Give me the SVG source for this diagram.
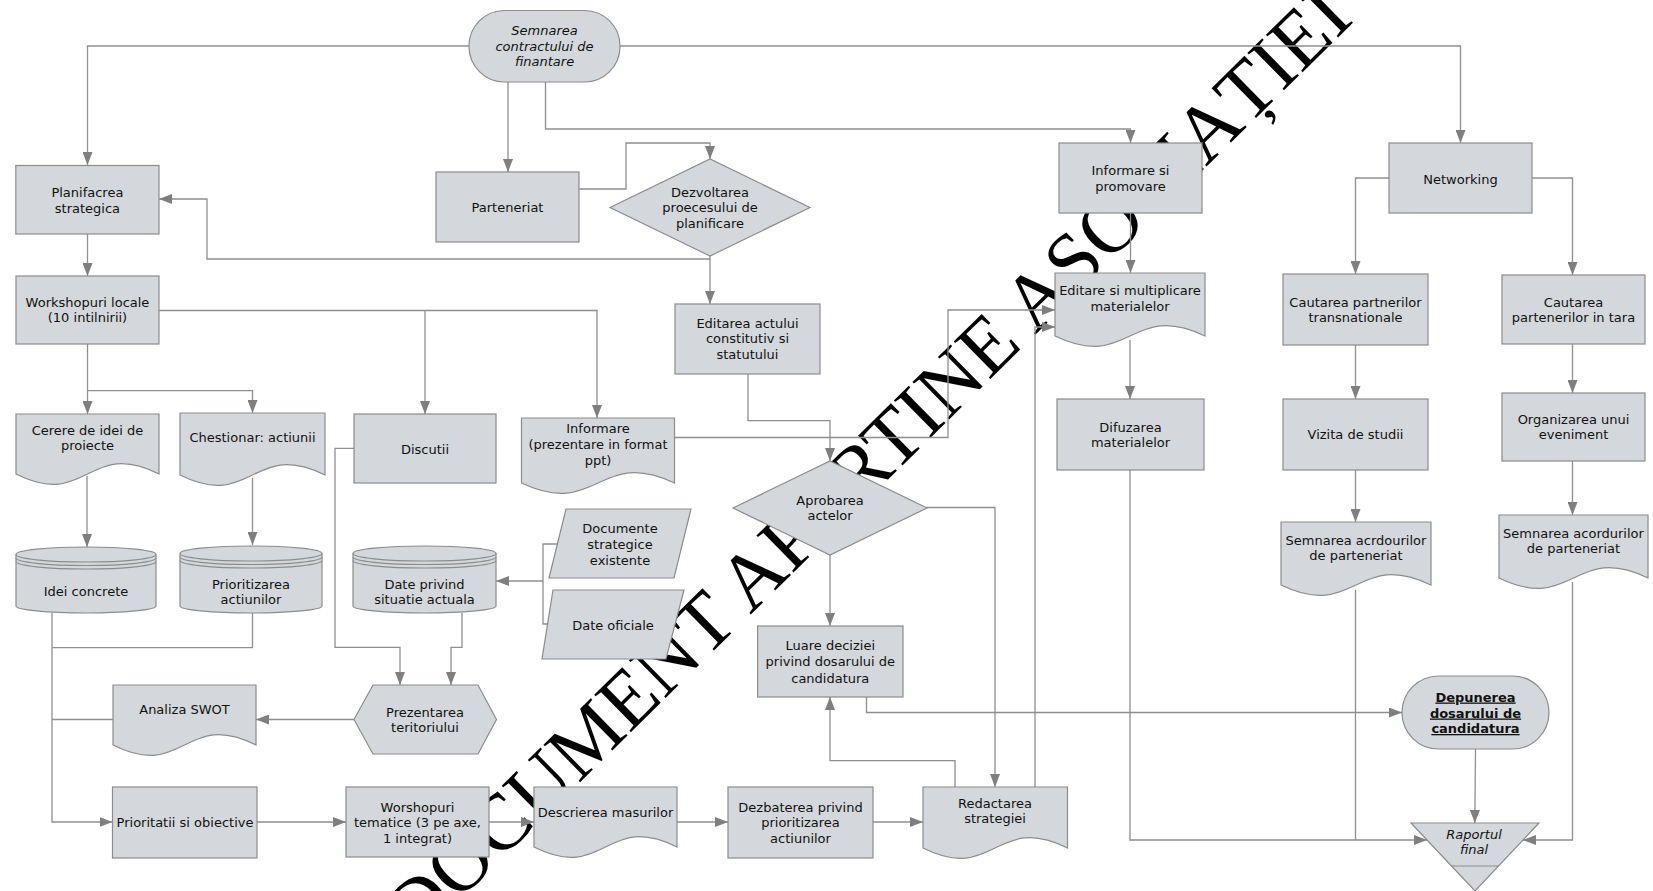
<svg xmlns="http://www.w3.org/2000/svg" width="1653" height="891" viewBox="0 0 1653 891">
<style>
.n{fill:#d4d8dc;stroke:#8c8c8c;stroke-width:1.2}
.l{fill:none;stroke:#8c8c8c;stroke-width:1.2}
.t{font-family:"DejaVu Sans",Verdana,sans-serif;font-size:13px;fill:#111;text-anchor:middle}
.i{font-style:italic}
.b{font-weight:bold;text-decoration:underline}
.c{fill:none;stroke:#8f8f8f;stroke-width:1.3}
.a{marker-end:url(#arr)}
.wm{font-family:"Liberation Serif","Times New Roman",serif;font-size:80px;fill:#000}
</style>
<defs>
<marker id="arr" markerUnits="userSpaceOnUse" markerWidth="14" markerHeight="10" refX="13" refY="5" orient="auto">
<path d="M0,0 L13,5 L0,10 Z" fill="#7f7f7f"/>
</marker>
</defs>
<rect width="1653" height="891" fill="#fff"/>
<g id="watermark">
<text class="wm" x="416.8" y="942.6" transform="rotate(-44.5 416.8 942.6)">DOCUMENT APARTINE ASOCIAȚIEI</text>
</g>
<g id="connectors">
<path class="c a" d="M469,46 H87.5 V165"/>
<path class="c a" d="M620,46 H1460.5 V143"/>
<path class="c a" d="M508,82 V172"/>
<path class="c a" d="M545.5,82 V129 H1130.5 V143"/>
<path class="c a" d="M579,189 H626 V143 H710 V159"/>
<path class="c a" d="M710,256 V304"/>
<path class="c a" d="M710,259 H207 V199 H159"/>
<path class="c a" d="M87.5,234 V276"/>
<path class="c a" d="M159,310.5 H597 V418"/>
<path class="c a" d="M425,310.5 V414"/>
<path class="c a" d="M87.5,344 V414"/>
<path class="c a" d="M87.5,390.7 H252.5 V413"/>
<path class="c a" d="M87,476 V547"/>
<path class="c a" d="M252.5,478 V545"/>
<path class="c a" d="M52,613 V822 H112.5"/>
<path class="c" d="M252.5,613 V647.7 H52"/>
<path class="c" d="M113,719.5 H52"/>
<path class="c a" d="M354,719.5 H256"/>
<path class="c a" d="M354,448.3 H335 V647.3 H400 V685"/>
<path class="c a" d="M462,613 V647.3 H451 V685"/>
<path class="c" d="M557.4,544 H543 V624 H548"/>
<path class="c a" d="M543,581 H496"/>
<path class="c a" d="M257,822 H346"/>
<path class="c a" d="M489,822 H534"/>
<path class="c a" d="M677,822 H728"/>
<path class="c a" d="M873,822 H923"/>
<path class="c a" d="M955,787 V760.7 H830 V697"/>
<path class="c a" d="M927,507.5 H995 V787"/>
<path class="c a" d="M830,555 V626"/>
<path class="c a" d="M748,374 V420.7 H830 V461"/>
<path class="c a" d="M674.5,437.5 H948 V310 H1055"/>
<path class="c a" d="M1035,787 V327 H1055"/>
<path class="c a" d="M1130.5,213 V273"/>
<path class="c a" d="M1130,340 V399"/>
<path class="c a" d="M1130,470 V840 H1427"/>
<path class="c a" d="M1389,178 H1355.5 V274"/>
<path class="c a" d="M1532,178 H1572.5 V275"/>
<path class="c a" d="M1355.5,345 V399"/>
<path class="c a" d="M1355.5,470 V522"/>
<path class="c" d="M1355.5,590 V840"/>
<path class="c a" d="M1572.5,344 V393"/>
<path class="c a" d="M1572.5,461 V515"/>
<path class="c a" d="M1572.5,582 V840 H1523"/>
<path class="c a" d="M866.5,697 V712.5 H1402"/>
<path class="c a" d="M1475.5,749 L1474.8,823"/>
</g>
<g id="n-semnarea-contract">
<rect class="n" x="469" y="10.5" width="151" height="71.5" rx="35.5" ry="35.5"/>
<text class="t i"><tspan x="544.5" y="35">Semnarea</tspan><tspan x="544.5" y="50.5">contractului de</tspan><tspan x="544.5" y="66">finantare</tspan></text>
</g>
<g id="n-planificarea">
<rect class="n" x="15.8" y="165.5" width="143.2" height="68.5"/>
<text class="t"><tspan x="87.4" y="197">Planifacrea</tspan><tspan x="87.4" y="212.5">strategica</tspan></text>
</g>
<g id="n-parteneriat">
<rect class="n" x="436" y="172" width="143" height="70"/>
<text class="t"><tspan x="507.5" y="212">Parteneriat</tspan></text>
</g>
<g id="n-dezvoltarea">
<path class="n" d="M610,207.5 L710,159 L810,207.5 L710,256 Z"/>
<text class="t"><tspan x="710" y="196.5">Dezvoltarea</tspan><tspan x="710" y="212">proecesului de</tspan><tspan x="710" y="227.5">planificare</tspan></text>
</g>
<g id="n-informare-promovare">
<rect class="n" x="1059" y="143" width="143" height="70"/>
<text class="t"><tspan x="1130.5" y="175">Informare si</tspan><tspan x="1130.5" y="190.5">promovare</tspan></text>
</g>
<g id="n-networking">
<rect class="n" x="1389" y="143" width="143" height="70"/>
<text class="t"><tspan x="1460.5" y="183.5">Networking</tspan></text>
</g>
<g id="n-workshopuri-locale">
<rect class="n" x="16" y="276" width="143" height="68"/>
<text class="t"><tspan x="87.5" y="306.5">Workshopuri locale</tspan><tspan x="87.5" y="322">(10 intilnirii)</tspan></text>
</g>
<g id="n-editarea-actului">
<rect class="n" x="675" y="304" width="145" height="70"/>
<text class="t"><tspan x="747.5" y="327.5">Editarea actului</tspan><tspan x="747.5" y="343">constitutiv si</tspan><tspan x="747.5" y="358.5">statutului</tspan></text>
</g>
<g id="n-editare-multiplicare">
<path class="n" d="M1055,273 H1205 V336 C1130,300 1130,372 1055,336 Z"/>
<text class="t"><tspan x="1130" y="295">Editare si multiplicare</tspan><tspan x="1130" y="311">materialelor</tspan></text>
</g>
<g id="n-cautarea-trans">
<rect class="n" x="1283" y="274" width="145" height="71"/>
<text class="t"><tspan x="1355.5" y="306.5">Cautarea partnerilor</tspan><tspan x="1355.5" y="322">transnationale</tspan></text>
</g>
<g id="n-cautarea-tara">
<rect class="n" x="1502" y="275" width="143" height="69"/>
<text class="t"><tspan x="1573.5" y="306.5">Cautarea</tspan><tspan x="1573.5" y="322">partenerilor in tara</tspan></text>
</g>
<g id="n-difuzarea">
<rect class="n" x="1057" y="399" width="147" height="71"/>
<text class="t"><tspan x="1130.5" y="431.5">Difuzarea</tspan><tspan x="1130.5" y="447">materialelor</tspan></text>
</g>
<g id="n-vizita">
<rect class="n" x="1283" y="399" width="145" height="71"/>
<text class="t"><tspan x="1355.5" y="438.5">Vizita de studii</tspan></text>
</g>
<g id="n-organizarea">
<rect class="n" x="1502" y="393" width="143" height="68"/>
<text class="t"><tspan x="1573.5" y="423.5">Organizarea unui</tspan><tspan x="1573.5" y="439">eveniment</tspan></text>
</g>
<g id="n-semnarea-acrdourilor">
<path class="n" d="M1281,522 H1431 V585 C1356,549 1356,621 1281,585 Z"/>
<text class="t"><tspan x="1356" y="544.5">Semnarea acrdourilor</tspan><tspan x="1356" y="560">de parteneriat</tspan></text>
</g>
<g id="n-semnarea-acordurilor">
<path class="n" d="M1499,515 H1648 V578 C1573.5,542 1573.5,614 1499,578 Z"/>
<text class="t"><tspan x="1573.5" y="537.5">Semnarea acordurilor</tspan><tspan x="1573.5" y="553">de parteneriat</tspan></text>
</g>
<g id="n-cerere">
<path class="n" d="M16,414 H159 V474 C87.5,438 87.5,510 16,474 Z"/>
<text class="t"><tspan x="87.5" y="434.5">Cerere de idei de</tspan><tspan x="87.5" y="450">proiecte</tspan></text>
</g>
<g id="n-chestionar">
<path class="n" d="M180,413 H325 V475 C252.5,439 252.5,511 180,475 Z"/>
<text class="t"><tspan x="252.5" y="442">Chestionar: actiunii</tspan></text>
</g>
<g id="n-discutii">
<rect class="n" x="354" y="414" width="142" height="69"/>
<text class="t"><tspan x="425" y="453.5">Discutii</tspan></text>
</g>
<g id="n-informare-ppt">
<path class="n" d="M521.5,418 H674.5 V483 C598,447 598,519 521.5,483 Z"/>
<text class="t"><tspan x="598" y="432.5">Informare</tspan><tspan x="598" y="448.5">(prezentare in format</tspan><tspan x="598" y="464.5">ppt)</tspan></text>
</g>
<g id="n-idei-concrete">
<path class="n" d="M16,554.5 A70,7.5 0 0 1 156,554.5 V606 A70,7 0 0 1 16,606 Z"/>
<path class="l" d="M16,554.5 A70,7.5 0 0 0 156,554.5 M16,558 A70,7.5 0 0 0 156,558 M16,561.5 A70,7.5 0 0 0 156,561.5"/>
<text class="t"><tspan x="86" y="595.5">Idei concrete</tspan></text>
</g>
<g id="n-prioritizarea">
<path class="n" d="M180,553.5 A71,7.5 0 0 1 322,553.5 V606 A71,7 0 0 1 180,606 Z"/>
<path class="l" d="M180,553.5 A71,7.5 0 0 0 322,553.5 M180,557 A71,7.5 0 0 0 322,557 M180,560.5 A71,7.5 0 0 0 322,560.5"/>
<text class="t"><tspan x="251" y="588.5">Prioritizarea</tspan><tspan x="251" y="604">actiunilor</tspan></text>
</g>
<g id="n-date-privind">
<path class="n" d="M353,553.5 A71.5,7.5 0 0 1 496,553.5 V606 A71.5,7 0 0 1 353,606 Z"/>
<path class="l" d="M353,553.5 A71.5,7.5 0 0 0 496,553.5 M353,557 A71.5,7.5 0 0 0 496,557 M353,560.5 A71.5,7.5 0 0 0 496,560.5"/>
<text class="t"><tspan x="424.5" y="588.5">Date privind</tspan><tspan x="424.5" y="604">situatie actuala</tspan></text>
</g>
<g id="n-documente">
<path class="n" d="M566,509 H691 L674,578 H549 Z"/>
<text class="t"><tspan x="620" y="532.5">Documente</tspan><tspan x="620" y="548.5">strategice</tspan><tspan x="620" y="564.5">existente</tspan></text>
</g>
<g id="n-date-oficiale">
<path class="n" d="M553,590 H684 L666,659 H542 Z"/>
<text class="t"><tspan x="613" y="629.5">Date oficiale</tspan></text>
</g>
<g id="n-aprobarea">
<path class="n" d="M733,508 L830,461 L927,508 L830,555 Z"/>
<text class="t"><tspan x="830" y="504.5">Aprobarea</tspan><tspan x="830" y="520">actelor</tspan></text>
</g>
<g id="n-luare">
<rect class="n" x="757.6" y="626" width="145.4" height="71"/>
<text class="t"><tspan x="830.3" y="649.5">Luare deciziei</tspan><tspan x="830.3" y="666">privind dosarului de</tspan><tspan x="830.3" y="682.5">candidatura</tspan></text>
</g>
<g id="n-depunerea">
<rect class="n" x="1402" y="676" width="147" height="73" rx="36.5" ry="36.5"/>
<text class="t b"><tspan x="1475.5" y="701.5">Depunerea</tspan><tspan x="1475.5" y="717.5">dosarului de</tspan><tspan x="1475.5" y="733">candidatura</tspan></text>
</g>
<g id="n-raportul">
<path class="n" d="M1411,823 H1539 L1475,891 Z"/>
<path class="l" d="M1451,866 H1499"/>
<text class="t i"><tspan x="1474" y="838.5">Raportul</tspan><tspan x="1474" y="853.5">final</tspan></text>
</g>
<g id="n-analiza-swot">
<path class="n" d="M113,685 H256 V745 C184.5,709 184.5,781 113,745 Z"/>
<text class="t"><tspan x="184.5" y="713.5">Analiza SWOT</tspan></text>
</g>
<g id="n-prezentarea">
<path class="n" d="M354,719.5 L373,685 H478 L496.5,719.5 L478,754 H373 Z"/>
<text class="t"><tspan x="425" y="716.5">Prezentarea</tspan><tspan x="425" y="732">teritoriului</tspan></text>
</g>
<g id="n-prioritatii">
<rect class="n" x="112.5" y="787" width="144.5" height="71"/>
<text class="t"><tspan x="185" y="826.5">Prioritatii si obiective</tspan></text>
</g>
<g id="n-worshopuri-tematice">
<rect class="n" x="346" y="787" width="143" height="70"/>
<text class="t"><tspan x="417.5" y="811.5">Worshopuri</tspan><tspan x="417.5" y="827">tematice (3 pe axe,</tspan><tspan x="417.5" y="842.5">1 integrat)</tspan></text>
</g>
<g id="n-descrierea">
<path class="n" d="M534,787 H677 V847 C605.5,811 605.5,883 534,847 Z"/>
<text class="t"><tspan x="605.5" y="816.5">Descrierea masurilor</tspan></text>
</g>
<g id="n-dezbaterea">
<rect class="n" x="728" y="787" width="145" height="71"/>
<text class="t"><tspan x="800.5" y="811.5">Dezbaterea privind</tspan><tspan x="800.5" y="827">prioritizarea</tspan><tspan x="800.5" y="842.5">actiunilor</tspan></text>
</g>
<g id="n-redactarea">
<path class="n" d="M923,787 H1067.5 V848 C995,812 995,884 923,848 Z"/>
<text class="t"><tspan x="995" y="807.5">Redactarea</tspan><tspan x="995" y="823">strategiei</tspan></text>
</g>
</svg>
